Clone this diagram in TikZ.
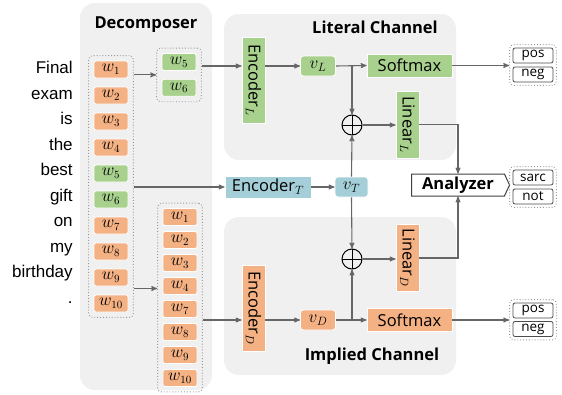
\documentclass[tikz,border=0pt]{standalone}
\usepackage{fontspec}
\setmainfont{Open Sans}
\newfontfamily\wordfont{Liberation Sans}
\usetikzlibrary{arrows,positioning,calc,fit,shapes.symbols}

\definecolor{panelgray}{HTML}{F0F0F0}
\definecolor{orangebox}{HTML}{F4B183}
\definecolor{greenbox}{HTML}{A9D18E}
\definecolor{bluebox}{HTML}{A5CFD8}
\definecolor{linegray}{HTML}{666666}

\begin{document}
\begin{tikzpicture}[x=1pt, y=-1pt, >=stealth', semithick,
  flow/.style={->, draw=linegray, line width=1.1pt},
  word/.style={anchor=east, inner sep=0, text height=12, text depth=3.5, font=\wordfont\fontsize{17}{20}\selectfont},
  wbox/.style={rectangle, rounded corners=2pt, draw=white, line width=0.8pt, minimum width=34, minimum height=17, inner sep=0, font=\fontsize{16}{18}\selectfont},
  blockbox/.style={rectangle, draw=white, line width=0.8pt, inner sep=0, font=\fontsize{16.5}{20}\selectfont},
  vbox/.style={rectangle, rounded corners=3pt, draw=white, line width=0.8pt, minimum width=35, minimum height=20, inner sep=0, font=\fontsize{17}{19}\selectfont},
  group/.style={draw=gray!80, dotted, line width=0.9pt, rounded corners=4pt, inner sep=5},
  labbox/.style={rectangle, draw=black!70, fill=white, rounded corners=2pt, line width=0.8pt, minimum width=40, minimum height=15, inner sep=0, font=\fontsize{13.5}{15}\selectfont},
  plus/.style={circle, draw=black, line width=1pt, minimum size=20, inner sep=0,
    path picture={\draw[line width=1pt] (path picture bounding box.north) -- (path picture bounding box.south)
      (path picture bounding box.west) -- (path picture bounding box.east);}},
  title/.style={font=\bfseries\fontsize{16.5}{20}\selectfont}]
\useasboundingbox (0,0) rectangle (562,394);

% panels
\fill[panelgray, rounded corners=15pt] (80,3) rectangle (212,390);
\fill[panelgray, rounded corners=15pt] (224,14) rectangle (456,160);
\fill[panelgray, rounded corners=15pt] (224,217) rectangle (456,375);
\node[title] (dectitle) at (146,25) {Decomposer};
\node[title] (littitle) at (375,27) {Literal Channel};
\node[title] (imptitle) at (372,356) {Implied Channel};

% sentence
\foreach \t [count=\i] in {Final,exam,is,the,best,gift,on,my,birthday,.}
  \node[word] (s\i) at (73, 44+25.5*\i) {\t};

% decomposer
\foreach \i/\c in {1/orangebox,2/orangebox,3/orangebox,4/orangebox,5/greenbox,
                   6/greenbox,7/orangebox,8/orangebox,9/orangebox,10/orangebox}
  \node[wbox, fill=\c] (a\i) at (111, 43.5+26*\i) {$w_{\i}$};
\node[group, fit=(a1)(a10)] (lg) {};

\node[wbox, fill=greenbox] (b5) at (179,62) {$w_{5}$};
\node[wbox, fill=greenbox, below=8pt of b5] (b6) {$w_{6}$};
\node[group, fit=(b5)(b6)] (tg) {};

\foreach \i [count=\k] in {1,2,3,4,7,8,9,10}
  \node[wbox, fill=orangebox] (c\i) at (180, 194+23*\k) {$w_{\i}$};
\node[group, fit=(c1)(c10)] (bg) {};

% literal channel
\node[blockbox, fill=greenbox, rotate=-90, minimum width=86, minimum height=23] (encL) at (253.5,80) {Encoder$_{L}$};
\node[vbox, fill=greenbox] (vL) at (318,66) {$v_{L}$};
\node[blockbox, fill=greenbox, minimum width=85, minimum height=23] (smL) at (409.5,65.5) {Softmax};
\node[plus] (plusL) at (352,125) {};
\node[blockbox, fill=greenbox, rotate=-90, minimum width=67, minimum height=23] (linL) at (407.5,124.5) {Linear$_{L}$};

% target
\node[blockbox, fill=bluebox, minimum width=86, minimum height=22] (encT) at (268,187) {Encoder$_{T}$};
\node[vbox, fill=bluebox, minimum width=33] (vT) at (351.5,187) {$v_{T}$};

% implied channel
\node[blockbox, fill=orangebox, rotate=-90, minimum width=86, minimum height=23] (encD) at (253.5,308) {Encoder$_{D}$};
\node[vbox, fill=orangebox] (vD) at (318,320) {$v_{D}$};
\node[blockbox, fill=orangebox, minimum width=85, minimum height=23] (smD) at (409.5,320) {Softmax};
\node[plus] (plusD) at (352,259) {};
\node[blockbox, fill=orangebox, rotate=-90, minimum width=67, minimum height=23] (linD) at (407.5,258) {Linear$_{D}$};

% analyzer and outputs
\node[signal, signal to=east, signal pointer angle=130, draw=black!75, fill=white, line width=1pt,
      minimum width=98, minimum height=22, inner sep=0, font=\bfseries\fontsize{16.5}{20}\selectfont] (ana) at (458,185) {Analyzer};

\node[labbox] (posL) at (533,55.5) {pos};
\node[labbox] (negL) at (533,74.5) {neg};
\node[group, inner sep=3, fit=(posL)(negL)] (pnL) {};
\node[labbox] (sarc) at (533,177.5) {sarc};
\node[labbox] (not) at (533,196.5) {not};
\node[group, inner sep=3, fit=(sarc)(not)] (sn) {};
\node[labbox] (posD) at (533,310.5) {pos};
\node[labbox] (negD) at (533,329) {neg};
\node[group, inner sep=3, fit=(posD)(negD)] (pnD) {};

% connectors
\coordinate (bgin) at ([yshift=9pt]bg.west);
\draw[flow] (lg.east |- tg.west) -- (tg.west);
\draw[flow] (lg.east |- bgin) -- (bgin);
\draw[flow] (lg.east |- encT.west) -- (encT.west);
\draw[flow] (tg.east |- vL) -- (encL.south |- vL);
\draw[flow] (encL.north |- vL) -- (vL.west);
\draw[flow] (vL.east) -- (smL.west);
\draw[flow] (plusL |- vL) -- (plusL.north);
\draw[flow] (plusL.east) -- (linL.south |- plusL);
\draw[flow] (linL.north) -| (ana.north);
\draw[flow] (encT.east) -- (vT.west);
\draw[flow] (vT.north) -- (plusL.south);
\draw[flow] (vT.south) -- (plusD.north);
\draw[flow] (bg.east |- vD) -- (encD.south |- vD);
\draw[flow] (encD.north |- vD) -- (vD.west);
\draw[flow] (vD.east) -- (smD.west);
\draw[flow] (plusD |- vD) -- (plusD.south);
\draw[flow] (plusD.east) -- (linD.south |- plusD);
\draw[flow] (linD.north) -| (ana.south);
\draw[flow] (smL.east) -- (pnL.west |- smL);
\draw[flow] (smD.east) -- (pnD.west |- smD);

\end{tikzpicture}
\end{document}
